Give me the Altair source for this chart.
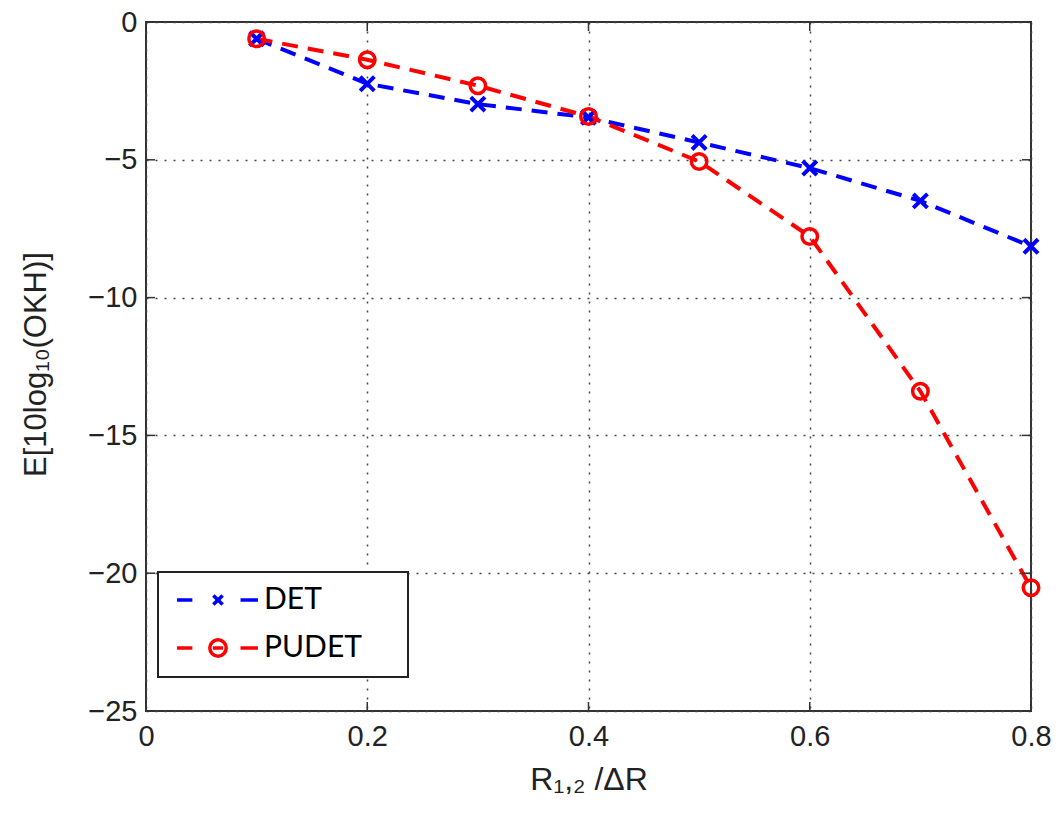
import altair as alt
import pandas as pd

# ---- data ----
x_vals = [0.1, 0.2, 0.3, 0.4, 0.5, 0.6, 0.7, 0.8]
det_vals = [-0.61, -2.24, -2.98, -3.46, -4.37, -5.30, -6.49, -8.14]
pudet_vals = [-0.61, -1.37, -2.31, -3.43, -5.06, -7.78, -13.40, -20.53]
series_names = ["DET", "PUDET"]
series_colors = ["#0000ff", "#ff0000"]
x_ticks = [0, 0.2, 0.4, 0.6, 0.8]
y_ticks = [-25, -20, -15, -10, -5, 0]

rows = []
for xv, d, p in zip(x_vals, det_vals, pudet_vals):
    rows.append({"x": xv, "value": d, "series": "DET"})
    rows.append({"x": xv, "value": p, "series": "PUDET"})
df = pd.DataFrame(rows)
xt_df = pd.DataFrame({"x": x_ticks})
yt_df = pd.DataFrame({"value": y_ticks})

W, H = 885, 689
TICK_FONT = "Liberation Sans"

x_scale = alt.Scale(domain=[0, 0.8], nice=False, zero=False)
y_scale = alt.Scale(domain=[-25, 0], nice=False, zero=False)

x_enc = alt.X(
    "x:Q",
    scale=x_scale,
    axis=alt.Axis(
        values=x_ticks,
        labelExpr="datum.value == 0 ? '0' : format(datum.value, '.1f')",
        title="R₁,₂ /ΔR",
        grid=True, gridDash=[2, 7], gridColor="#444", gridWidth=1.5,
        ticks=False, domain=False, labelFlush=False,
        labelFont=TICK_FONT, labelFontSize=29, labelColor="#222", labelPadding=11,
        titleFont=TICK_FONT, titleFontSize=32, titleColor="#222", titleFontWeight="normal",
        titleBaseline="alphabetic", titleY=78,
    ),
)
y_enc = alt.Y(
    "value:Q",
    scale=y_scale,
    axis=alt.Axis(
        values=y_ticks,
        title="E[10log₁₀(OKH)]",
        grid=True, gridDash=[2, 7], gridColor="#444", gridWidth=1.5,
        ticks=False, domain=False, labelFlush=False,
        labelFont=TICK_FONT, labelFontSize=29, labelColor="#222", labelPadding=9,
        titleFont=TICK_FONT, titleFontSize=31, titleColor="#222", titleFontWeight="normal",
        titleBaseline="alphabetic", titleX=-101, titleY=342, titleAngle=270,
    ),
)

X_PATH = "M-1,-1L1,1M-1,1L1,-1"

lines_det = alt.Chart(df).transform_filter("datum.series == 'DET'").mark_line(
    color=series_colors[0], strokeDash=[16, 10], strokeWidth=4
).encode(x=x_enc, y=y_enc)
lines_pud = alt.Chart(df).transform_filter("datum.series == 'PUDET'").mark_line(
    color=series_colors[1], strokeDash=[16, 10], strokeWidth=4
).encode(x=x_enc, y=y_enc)

pts_det = alt.Chart(df).transform_filter("datum.series == 'DET'").mark_point(
    shape=X_PATH, size=200, strokeWidth=4, filled=False, opacity=1, color=series_colors[0]
).encode(x=x_enc, y=y_enc)
pts_pud = alt.Chart(df).transform_filter("datum.series == 'PUDET'").mark_point(
    shape="circle", size=240, strokeWidth=3.5, filled=False, opacity=1, color=series_colors[1]
).encode(x=x_enc, y=y_enc)

# inside tick marks (MATLAB style) on all four sides
TL = 9
tick_style = dict(color="#333", strokeWidth=1.5)
xt_enc = alt.X("x:Q", scale=x_scale)
yt_enc = alt.Y("value:Q", scale=y_scale)
ticks_bottom = alt.Chart(xt_df).mark_rule(**tick_style).encode(
    x=xt_enc, y=alt.value(H), y2=alt.value(H - TL))
ticks_top = alt.Chart(xt_df).mark_rule(**tick_style).encode(
    x=xt_enc, y=alt.value(0), y2=alt.value(TL))
ticks_left = alt.Chart(yt_df).mark_rule(**tick_style).encode(
    y=yt_enc, x=alt.value(0), x2=alt.value(TL))
ticks_right = alt.Chart(yt_df).mark_rule(**tick_style).encode(
    y=yt_enc, x=alt.value(W), x2=alt.value(W - TL))

# legend symbols: dash - marker - dash
DET_LEG = "M-4,0L-2.5,0M2.2,0L3.9,0M-0.45,-0.45L0.45,0.45M-0.45,0.45L0.45,-0.45"
PUD_LEG = "M-4,0L-2.5,0M2.2,0L3.9,0M0.8,0A0.8,0.8 0 1,1 -0.8,0A0.8,0.8 0 1,1 0.8,0M-0.5,0L0.5,0"

leg = alt.Legend(
    title=".", titleOrient="right", titlePadding=31, titleFontSize=6, titleColor="transparent",
    orient="none", legendX=12, legendY=550,
    strokeColor="#222", fillColor="white", padding=13, rowPadding=17,
    symbolSize=420, symbolStrokeWidth=3.5, symbolOffset=32, labelOffset=31,
    labelFont="Lato", labelFontSize=30, labelColor="black",
)

legend_layer = alt.Chart(df).transform_filter("false").mark_point(
    filled=False, strokeWidth=3.5, opacity=1
).encode(
    x=x_enc, y=y_enc,
    color=alt.Color("series:N", scale=alt.Scale(domain=series_names, range=series_colors), legend=leg),
    shape=alt.Shape("series:N", scale=alt.Scale(domain=series_names, range=[DET_LEG, PUD_LEG]), legend=leg),
)

chart = alt.layer(
    legend_layer,
    lines_det, lines_pud, pts_det, pts_pud,
    ticks_bottom, ticks_top, ticks_left, ticks_right,
).properties(
    width=W, height=H,
    autosize=alt.AutoSizeParams(type="none"),
    padding={"left": 146, "top": 22, "right": 27, "bottom": 102},
    background="white",
).configure_view(stroke="#333", strokeWidth=2).configure_legend(strokeWidth=2)

chart.save("out.html", embed_options={"renderer": "svg", "actions": False})
